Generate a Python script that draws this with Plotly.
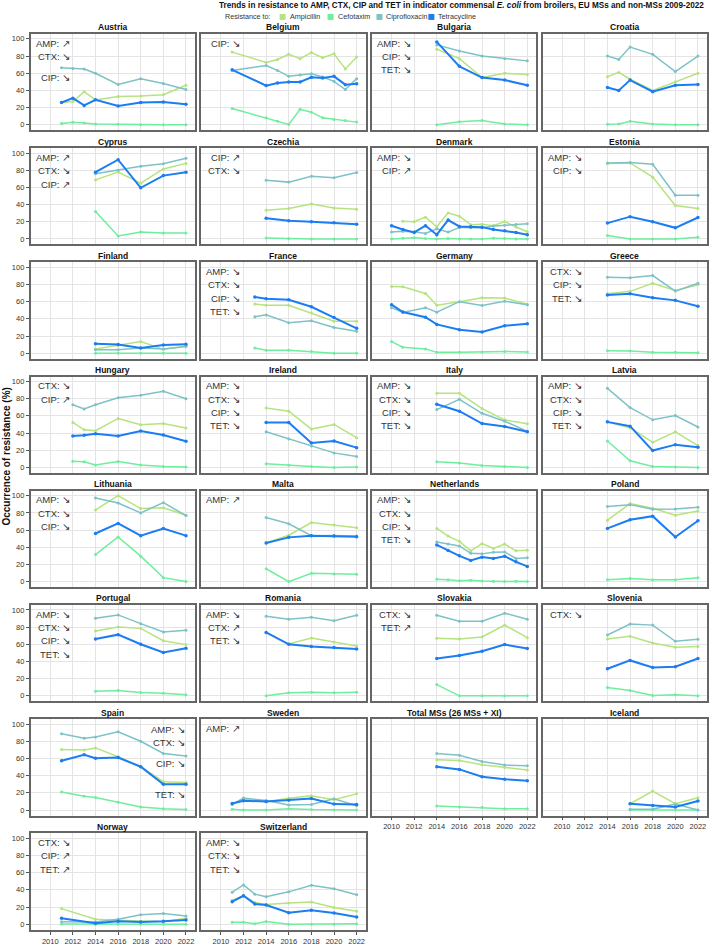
import plotly.graph_objects as go

W, H = 709, 946

# ---------------- data ----------------
austria_years = [2011, 2012, 2013, 2014, 2016, 2018, 2020, 2022]
austria_amp = [26, 27, 38.5, 29, 33, 33.5, 35, 46]
austria_ctx = [1.5, 3, 2, 1, 0.5, 0, 0, 0]
austria_cip = [66.5, 65.5, 65, 60, 47, 53.5, 48, 41]
austria_tet = [26, 31, 22.5, 29, 22, 26, 26.5, 24]

belgium_years = [2011, 2014, 2015, 2016, 2017, 2018, 2019, 2020, 2021, 2022]
belgium_amp = [84.6, 72.6, 76, 82, 77, 84, 78, 82.6, 65, 79]
belgium_ctx = [18.9, 8.1, 4.2, 0.4, 18.1, 14.7, 8.1, 6.2, 5, 3.1]
belgium_cip = [63.3, 69, 63.3, 56.4, 58, 59.5, 55.6, 50.6, 41, 53.7]
belgium_tet = [64, 45.6, 48.6, 49.8, 49.8, 55.2, 54.4, 56.4, 46.7, 47.9]

bulgaria_years = [2014, 2016, 2018, 2020, 2022]
bulgaria_amp = [88, 77, 55, 60, 58.5]
bulgaria_ctx = [0, 3.5, 5, 1, 0]
bulgaria_cip = [93, 86, 80, 77, 74.4]
bulgaria_tet = [96.5, 68, 55, 52, 46]

croatia_years = [2014, 2015, 2016, 2018, 2020, 2022]
croatia_amp = [56, 61, 53, 40, 50, 60]
croatia_ctx = [0.5, 1, 4, 1, 0, 0]
croatia_cip = [80, 76, 90.5, 82, 62, 80]
croatia_tet = [43.5, 40, 52, 38.5, 46, 47]

cyprus_years = [2014, 2016, 2018, 2020, 2022]
cyprus_amp = [68.8, 78, 65, 81.5, 88]
cyprus_ctx = [32, 3.5, 8, 7, 7]
cyprus_cip = [76, 80, 84.6, 87.7, 94]
cyprus_tet = [77.7, 92.3, 59.6, 73.8, 77.7]

czechia_years = [2014, 2016, 2018, 2020, 2022]
czechia_amp = [33.5, 35.4, 40.8, 36.2, 34.6]
czechia_ctx = [1.2, 0.4, 0, 0, 0]
czechia_cip = [68.5, 66.2, 73.1, 71.2, 77.3]
czechia_tet = [24.2, 21.2, 20, 18.8, 17.3]

denmark_years = [2010, 2011, 2012, 2013, 2014, 2015, 2016, 2017, 2018, 2019, 2020, 2021, 2022]
denmark_amp = [None, 20.8, 20, 25.4, 14.2, 30.4, 26.5, 16.5, 17.3, 15.4, 20.4, 14, 8.5]
denmark_ctx = [0, 1, 1.5, 0.5, 0, 0.5, 0, 0, 0, 1, 0.5, 0, 0]
denmark_cip = [8, 9, 8.5, 6.5, 12, 8, 13.5, 13, 13, 15, 16, 17, 17.7]
denmark_tet = [15.4, 11, 7.7, 15.4, 5, 22, 14.6, 14.2, 13.8, 11, 9.6, 7.5, 5]

estonia_years = [2014, 2016, 2018, 2020, 2022]
estonia_amp = [88, 88.5, 72, 39, 35.4]
estonia_ctx = [4, 0, 0, 0, 2]
estonia_cip = [88.5, 89, 87, 51, 50.8]
estonia_tet = [18.5, 26, 20, 13, 25]

finland_years = [2014, 2016, 2018, 2020, 2022]
finland_amp = [5, 9, 13.5, 4.5, 8]
finland_ctx = [0, 0, 0, 0, 0]
finland_cip = [4, 4, 6, 5, 7.7]
finland_tet = [11, 10, 6, 9.6, 10.4]

france_years = [2013, 2014, 2016, 2018, 2020, 2022]
france_amp = [57.3, 55.8, 55.8, 47, 37.3, 37.3]
france_ctx = [6, 3.5, 3.5, 2, 0, 0]
france_cip = [42.3, 44.6, 35.4, 37.7, 30, 25.6]
france_tet = [65.5, 63.5, 62.3, 54, 41.5, 29]

germany_years = [2010, 2011, 2013, 2014, 2016, 2018, 2020, 2022]
germany_amp = [77.7, 77.3, 69.6, 55.8, 60, 64.6, 64.2, 57]
germany_ctx = [13.5, 7, 5, 1, 1, 1.5, 2, 1.5]
germany_cip = [53, 47.3, 53, 47.7, 60, 55.4, 60.4, 56.5]
germany_tet = [56.5, 48, 41.9, 33.5, 27.3, 24.6, 31.9, 34.2]

greece_years = [2014, 2016, 2018, 2020, 2022]
greece_amp = [69.2, 72, 81.5, 73, 79.6]
greece_ctx = [3, 2.5, 1, 1, 0.5]
greece_cip = [88.5, 87.7, 90.4, 72.3, 81.5]
greece_tet = [67.7, 69.2, 64.6, 61.5, 54.6]

hungary_years = [2012, 2013, 2014, 2016, 2018, 2020, 2022]
hungary_amp = [52.3, 43.8, 42.7, 57, 49.6, 51, 46]
hungary_ctx = [7.3, 6.5, 2.7, 7, 2.7, 1, 0.5]
hungary_cip = [73, 68, 73, 81, 84, 88.5, 80]
hungary_tet = [36.5, 37.3, 39.2, 36.5, 42.3, 37.7, 30.4]

ireland_years = [2014, 2016, 2018, 2020, 2022]
ireland_amp = [69.2, 65.4, 44.6, 50, 34.6]
ireland_ctx = [4.2, 2.5, 1, 0, 0.5]
ireland_cip = [41.5, 33, 25, 16.9, 12.7]
ireland_tet = [52.3, 52.3, 28.5, 30.8, 23]

italy_years = [2014, 2016, 2018, 2020, 2022]
italy_amp = [86.2, 86.2, 68.5, 55.4, 50.8]
italy_ctx = [6.5, 5, 2.3, 1, 0]
italy_cip = [67.3, 79.2, 63, 53.8, 42]
italy_tet = [73.5, 65.4, 51, 47.7, 41.5]

latvia_years = [2014, 2016, 2018, 2020, 2022]
latvia_amp = [52.7, 46.2, 29.2, 41.5, 25.4]
latvia_ctx = [30.8, 7.7, 1, 0.5, 0]
latvia_cip = [92, 69.6, 55.4, 60.4, 47]
latvia_tet = [53, 48, 19.6, 26.5, 23.5]

lithuania_years = [2014, 2016, 2018, 2020, 2022]
lithuania_amp = [83.5, 100, 85, 86, 77.3]
lithuania_ctx = [31.5, 51.9, 29.6, 4.6, 0]
lithuania_cip = [97.3, 91.5, 80, 91.9, 76.9]
lithuania_tet = [56, 67.7, 53.5, 61.9, 53.5]

malta_years = [2014, 2016, 2018, 2020, 2022]
malta_amp = [45, 54, 68.8, 65.8, 62.7]
malta_ctx = [15, 0, 9.6, 9, 8.5]
malta_cip = [74.6, 67.3, 53.5, 53.8, 53.1]
malta_tet = [45, 51.5, 53.5, 53, 52.3]

netherlands_years = [2014, 2015, 2016, 2017, 2018, 2019, 2020, 2021, 2022]
netherlands_amp = [61.9, 53, 46.9, 35.8, 44.2, 38.5, 43.8, 35.8, 36.5]
netherlands_ctx = [2.7, 2.3, 1, 1.5, 0.8, 0, 0, 0.5, 0]
netherlands_cip = [46.2, 43.8, 41.5, 33, 32.3, 34.2, 34.6, 26.9, 27.7]
netherlands_tet = [42.7, 36.2, 30, 24.6, 28.5, 26.9, 29.6, 23, 17.7]

poland_years = [2014, 2016, 2018, 2020, 2022]
poland_amp = [71.5, 90.8, 85.4, 77.3, 82.3]
poland_ctx = [2.3, 3.5, 2.3, 2.3, 4.6]
poland_cip = [87.3, 89.6, 84.2, 84.6, 86.5]
poland_tet = [61.9, 71.9, 76.2, 51.9, 70.8]

portugal_years = [2014, 2016, 2018, 2020, 2022]
portugal_amp = [75.4, 80, 78.5, 64.2, 59.6]
portugal_ctx = [5.4, 6.2, 4, 3.1, 1.2]
portugal_cip = [90.4, 94.2, 84, 74.2, 76.2]
portugal_tet = [66.2, 71.2, 60, 50.4, 55.4]

romania_years = [2014, 2016, 2018, 2020, 2022]
romania_amp = [73.5, 60.4, 67.3, 62.7, 58.1]
romania_ctx = [0, 3.5, 4.2, 3.5, 4.2]
romania_cip = [92.7, 89.2, 91.5, 87.3, 93.8]
romania_tet = [73.8, 60, 57.3, 56.2, 54.6]

slovakia_years = [2014, 2016, 2018, 2020, 2022]
slovakia_amp = [66.9, 66.2, 68.5, 82.3, 67.7]
slovakia_ctx = [13.1, 0, 0, 0, 0]
slovakia_cip = [93.8, 86.9, 86.9, 96.2, 89.2]
slovakia_tet = [43.5, 46.9, 51.9, 59.6, 55]

slovenia_years = [2014, 2016, 2018, 2020, 2022]
slovenia_amp = [66.2, 69.2, 61.5, 56.5, 57.3]
slovenia_ctx = [9.6, 6.2, 0.4, 1.2, 0]
slovenia_cip = [70.8, 83.5, 82.3, 63.5, 65.8]
slovenia_tet = [31.5, 41.2, 33.1, 33.8, 43.5]

spain_years = [2011, 2013, 2014, 2016, 2018, 2020, 2022]
spain_amp = [70.4, 70, 72.3, 62, 50.4, 33, 31.9]
spain_ctx = [21, 16, 14.6, 9, 3.5, 1.5, 0.5]
spain_cip = [88.8, 83.5, 85, 91, 80, 65.8, 63]
spain_tet = [57.3, 64.2, 60.4, 61.2, 50.4, 30, 30]

sweden_years = [2011, 2012, 2014, 2016, 2018, 2020, 2022]
sweden_amp = [6.5, 13, 9.6, 13.8, 16.5, 12, 18.8]
sweden_ctx = [1, 0, 0, 1.5, 0.5, 0, 0]
sweden_cip = [6.5, 14, 11, 5.8, 6.5, 13, 5]
sweden_tet = [7.7, 10.8, 10, 11.5, 13.5, 6.9, 6.5]

total_years = [2014, 2016, 2018, 2020, 2022]
total_amp = [58.5, 57.7, 52.7, 49.6, 46.5]
total_ctx = [4.6, 3.5, 3.1, 1.5, 1.5]
total_cip = [65.8, 63.8, 56.5, 52.3, 51.5]
total_tet = [50.4, 47.3, 38.8, 35.8, 34.2]

iceland_years = [2016, 2018, 2020, 2022]
iceland_amp = [7.3, 22, 7.3, 14.3]
iceland_ctx = [0, 0, 0, 0]
iceland_cip = [0.8, 0.8, 7, 0]
iceland_tet = [7.3, 5.4, 3.5, 10.4]

norway_years = [2011, 2014, 2016, 2018, 2020, 2022]
norway_amp = [18.2, 5.8, 4.5, 3.5, 3, 7]
norway_ctx = [0.4, 0, 0, 0, 0, 0]
norway_cip = [3, 2.7, 5.8, 10.9, 12.4, 9.7]
norway_tet = [7, 1.2, 3.5, 2.7, 3.5, 5]

switzerland_years = [2011, 2012, 2013, 2014, 2016, 2018, 2020, 2022]
switzerland_amp = [28, 33, 25.4, 23, 24.6, 25.8, 19.6, 15]
switzerland_ctx = [2.3, 2.3, 0.5, 3.1, 0, 0, 0, 0.5]
switzerland_cip = [37.3, 45.8, 35, 31.9, 37.7, 45.4, 41.2, 34.2]
switzerland_tet = [26.2, 33.1, 23.5, 22.3, 13.5, 16.2, 13.1, 8.5]

x_tick_labels = ["2010", "2012", "2014", "2016", "2018", "2020", "2022"]
x_tick_vals = [2010, 2012, 2014, 2016, 2018, 2020, 2022]
y_tick_vals = [0, 20, 40, 60, 80, 100]

series_names = ["Ampicillin", "Cefotaxim", "Ciprofloxacin", "Tetracycline"]
series_colors = ["#B6E37E", "#6FEE9E", "#7EC2C6", "#1C7DF3"]

UP, DN = "\u2197", "\u2198"
panels = [
    ("Austria", austria_years, austria_amp, austria_ctx, austria_cip, austria_tet, [f"AMP: {UP}", f"CTX: {DN}", f"CIP: {DN}"]),
    ("Belgium", belgium_years, belgium_amp, belgium_ctx, belgium_cip, belgium_tet, [f"CIP: {DN}"]),
    ("Bulgaria", bulgaria_years, bulgaria_amp, bulgaria_ctx, bulgaria_cip, bulgaria_tet, [f"AMP: {DN}", f"CIP: {DN}", f"TET: {DN}"]),
    ("Croatia", croatia_years, croatia_amp, croatia_ctx, croatia_cip, croatia_tet, []),
    ("Cyprus", cyprus_years, cyprus_amp, cyprus_ctx, cyprus_cip, cyprus_tet, [f"AMP: {UP}", f"CTX: {DN}", f"CIP: {UP}"]),
    ("Czechia", czechia_years, czechia_amp, czechia_ctx, czechia_cip, czechia_tet, [f"CIP: {UP}", f"CTX: {DN}"]),
    ("Denmark", denmark_years, denmark_amp, denmark_ctx, denmark_cip, denmark_tet, [f"AMP: {DN}", f"CIP: {UP}"]),
    ("Estonia", estonia_years, estonia_amp, estonia_ctx, estonia_cip, estonia_tet, [f"AMP: {DN}", f"CIP: {DN}"]),
    ("Finland", finland_years, finland_amp, finland_ctx, finland_cip, finland_tet, []),
    ("France", france_years, france_amp, france_ctx, france_cip, france_tet, [f"AMP: {DN}", f"CTX: {DN}", f"CIP: {DN}", f"TET: {DN}"]),
    ("Germany", germany_years, germany_amp, germany_ctx, germany_cip, germany_tet, []),
    ("Greece", greece_years, greece_amp, greece_ctx, greece_cip, greece_tet, [f"CTX: {DN}", f"CIP: {DN}", f"TET: {DN}"]),
    ("Hungary", hungary_years, hungary_amp, hungary_ctx, hungary_cip, hungary_tet, [f"CTX: {DN}", f"CIP: {UP}"]),
    ("Ireland", ireland_years, ireland_amp, ireland_ctx, ireland_cip, ireland_tet, [f"AMP: {DN}", f"CTX: {DN}", f"CIP: {DN}", f"TET: {DN}"]),
    ("Italy", italy_years, italy_amp, italy_ctx, italy_cip, italy_tet, [f"AMP: {DN}", f"CTX: {DN}", f"CIP: {DN}", f"TET: {DN}"]),
    ("Latvia", latvia_years, latvia_amp, latvia_ctx, latvia_cip, latvia_tet, [f"AMP: {DN}", f"CTX: {DN}", f"CIP: {DN}", f"TET: {DN}"]),
    ("Lithuania", lithuania_years, lithuania_amp, lithuania_ctx, lithuania_cip, lithuania_tet, [f"AMP: {DN}", f"CTX: {DN}", f"CIP: {DN}"]),
    ("Malta", malta_years, malta_amp, malta_ctx, malta_cip, malta_tet, [f"AMP: {UP}"]),
    ("Netherlands", netherlands_years, netherlands_amp, netherlands_ctx, netherlands_cip, netherlands_tet, [f"AMP: {DN}", f"CTX: {DN}", f"CIP: {DN}", f"TET: {DN}"]),
    ("Poland", poland_years, poland_amp, poland_ctx, poland_cip, poland_tet, []),
    ("Portugal", portugal_years, portugal_amp, portugal_ctx, portugal_cip, portugal_tet, [f"AMP: {DN}", f"CTX: {DN}", f"CIP: {DN}", f"TET: {DN}"]),
    ("Romania", romania_years, romania_amp, romania_ctx, romania_cip, romania_tet, [f"AMP: {DN}", f"CTX: {UP}", f"TET: {DN}"]),
    ("Slovakia", slovakia_years, slovakia_amp, slovakia_ctx, slovakia_cip, slovakia_tet, [f"CTX: {DN}", f"TET: {UP}"]),
    ("Slovenia", slovenia_years, slovenia_amp, slovenia_ctx, slovenia_cip, slovenia_tet, [f"CTX: {DN}"]),
    ("Spain", spain_years, spain_amp, spain_ctx, spain_cip, spain_tet, [f"AMP: {DN}", f"CTX: {DN}", f"CIP: {DN}", f"TET: {DN}"]),
    ("Sweden", sweden_years, sweden_amp, sweden_ctx, sweden_cip, sweden_tet, [f"AMP: {UP}"]),
    ("Total MSs (26 MSs + XI)", total_years, total_amp, total_ctx, total_cip, total_tet, []),
    ("Iceland", iceland_years, iceland_amp, iceland_ctx, iceland_cip, iceland_tet, []),
    ("Norway", norway_years, norway_amp, norway_ctx, norway_cip, norway_tet, [f"CTX: {DN}", f"CIP: {UP}", f"TET: {UP}"]),
    ("Switzerland", switzerland_years, switzerland_amp, switzerland_ctx, switzerland_cip, switzerland_tet, [f"AMP: {DN}", f"CTX: {DN}", f"TET: {DN}"]),
]

# ---------------- layout geometry (pixels) ----------------
COL_X0, COL_PITCH, PANEL_W = 30.7, 170.9, 164.6
ROW_Y0, ROW_PITCH, PANEL_H = 34.0, 114.57, 96.7
X_RANGE = [2008.27, 2022.8]
Y_RANGE = [-6.4, 105.8]
FONT = "Liberation Sans, Arial, sans-serif"
TXT = "#333333"
LABEL_Y_STD = [95, 79.5, 64, 48.5]
LABEL_Y_SPECIAL = {"Austria": [95, 79.5, 54.5], "Spain": [94, 79, 54, 18]}

fig = go.Figure()
annotations = []
shapes = []

bottom_x_labels = {"Total MSs (26 MSs + XI)", "Iceland", "Norway", "Switzerland"}

for i, (name, years, amp, ctx, cip, tet, labels) in enumerate(panels):
    r, c = divmod(i, 4)
    sfx = "" if i == 0 else str(i + 1)
    x0 = COL_X0 + c * COL_PITCH
    x1 = x0 + PANEL_W
    yt = ROW_Y0 + r * ROW_PITCH
    yb = yt + PANEL_H
    show_x = name in bottom_x_labels
    show_y = c == 0
    fig.layout["xaxis" + sfx] = dict(
        domain=[x0 / W, x1 / W], anchor="y" + sfx, range=X_RANGE,
        tickvals=x_tick_vals, ticktext=x_tick_labels, showticklabels=show_x,
        ticks="outside" if show_x else "", ticklen=3, tickcolor="#555",
        tickfont=dict(size=7.5, color=TXT, family=FONT),
        showgrid=True, gridcolor="#e4e4e4", gridwidth=1, zeroline=False,
        showline=True, mirror=True, linecolor="#666666", linewidth=1.6,
        fixedrange=True,
    )
    fig.layout["yaxis" + sfx] = dict(
        domain=[1 - yb / H, 1 - yt / H], anchor="x" + sfx, range=Y_RANGE,
        tickvals=y_tick_vals, showticklabels=show_y,
        ticks="outside" if show_y else "", ticklen=3, tickcolor="#555",
        tickfont=dict(size=7.5, color=TXT, family=FONT),
        showgrid=True, gridcolor="#e4e4e4", gridwidth=1, zeroline=False,
        showline=True, mirror=True, linecolor="#666666", linewidth=1.6,
        fixedrange=True,
    )
    for vals, color, width, msize in [
        (ctx, series_colors[1], 1.5, 3),
        (amp, series_colors[0], 1.5, 3),
        (cip, series_colors[2], 1.5, 3),
        (tet, series_colors[3], 2.0, 3.5),
    ]:
        fig.add_trace(go.Scatter(
            x=years, y=vals, xaxis="x" + sfx, yaxis="y" + sfx,
            mode="lines+markers", connectgaps=True,
            line=dict(color=color, width=width),
            marker=dict(color=color, size=msize),
            showlegend=False, hoverinfo="skip",
        ))
    # panel title
    annotations.append(dict(
        text=f"<b>{name}</b>", x=(x0 + x1) / 2 / W, y=1 - (yt - 6.5) / H,
        xref="paper", yref="paper", showarrow=False,
        font=dict(size=8.5, color="#111", family=FONT),
        xanchor="center", yanchor="middle",
    ))
    # trend labels
    ys = LABEL_Y_SPECIAL.get(name, LABEL_Y_STD)
    xpos = 0.95 if name == "Spain" else 0.25
    for lab, yv in zip(labels, ys):
        annotations.append(dict(
            text=lab, x=xpos, y=yv, xref="x" + sfx + " domain", yref="y" + sfx,
            showarrow=False, xanchor="right", yanchor="middle",
            font=dict(size=9.5, color=TXT, family=FONT),
        ))

# title
annotations.append(dict(
    text="<b>Trends in resistance to AMP, CTX, CIP and TET in indicator commensal <i>E. coli</i> from broilers, EU MSs and non-MSs 2009-2022</b>",
    x=707 / W, y=1 - 5.5 / H, xref="paper", yref="paper", showarrow=False,
    xanchor="right", yanchor="middle", font=dict(size=8.2, color="#111", family=FONT),
))
# legend
annotations.append(dict(
    text="Resistance to:", x=223 / W, y=1 - 17 / H, xref="paper", yref="paper",
    showarrow=False, xanchor="left", yanchor="middle", font=dict(size=7.2, color=TXT, family=FONT),
))
leg_sq_x = [280, 328, 377, 429]
for nm, col, sx in zip(series_names, series_colors, leg_sq_x):
    shapes.append(dict(type="rect", xref="paper", yref="paper",
                       x0=sx / W, x1=(sx + 6) / W, y0=1 - 20 / H, y1=1 - 14 / H,
                       fillcolor=col, line=dict(width=0)))
    annotations.append(dict(
        text=nm, x=(sx + 8) / W, y=1 - 17 / H, xref="paper", yref="paper",
        showarrow=False, xanchor="left", yanchor="middle", font=dict(size=7.2, color=TXT, family=FONT),
    ))
# y axis title
annotations.append(dict(
    text="<b>Occurrence of resistance (%)</b>", x=7 / W, y=1 - 458 / H,
    xref="paper", yref="paper", showarrow=False, textangle=-90,
    xanchor="center", yanchor="middle", font=dict(size=10, color="#111", family=FONT),
))

fig.update_layout(
    width=W, height=H, margin=dict(l=0, r=0, t=0, b=0),
    paper_bgcolor="white", plot_bgcolor="white",
    annotations=annotations, shapes=shapes, showlegend=False,
)
fig.write_html(
    "out.html",
    config={"displayModeBar": False},
    post_script="document.body.style.margin='0';document.body.style.overflow='hidden';"
                "document.documentElement.style.overflow='hidden';",
)
